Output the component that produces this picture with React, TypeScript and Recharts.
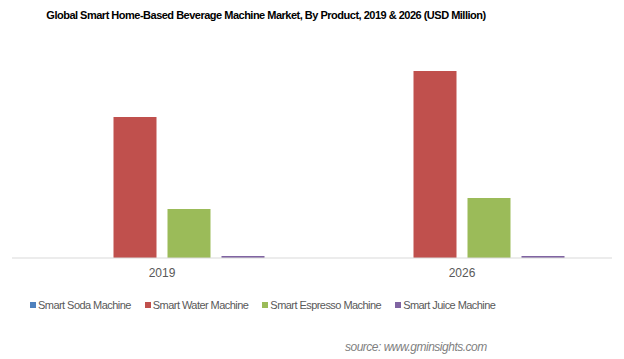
import { BarChart, Bar, XAxis, YAxis } from 'recharts'

const years = ['2019', '2026']
const sodaMachine = [0, 0]
const waterMachine = [1410, 1870]
const espressoMachine = [490, 600]
const juiceMachine = [20, 20]

const seriesNames = ['Smart Soda Machine', 'Smart Water Machine', 'Smart Espresso Machine', 'Smart Juice Machine']
const seriesKeys = ['soda', 'water', 'espresso', 'juice']
const seriesColors = ['#4f81bd', '#c0504d', '#9bbb59', '#8064a2']

const chartData = years.map((y, i) => ({
  year: y,
  soda: sodaMachine[i],
  water: waterMachine[i],
  espresso: espressoMachine[i],
  juice: juiceMachine[i],
}))

const font = '"Liberation Sans", Arial, sans-serif'

export default function App() {
  return (
    <div style={{ position: 'absolute', left: 0, top: 0, width: 624, height: 359, background: '#fff', fontFamily: font }}>
      <div
        style={{
          position: 'absolute',
          top: 9,
          left: 45,
          width: 442,
          textAlign: 'center',
          fontWeight: 'bold',
          fontSize: 11,
          letterSpacing: -0.5,
          color: '#000',
          whiteSpace: 'nowrap',
        }}
      >
        Global Smart Home-Based Beverage Machine Market, By Product, 2019 &amp; 2026 (USD Million)
      </div>

      <BarChart
        width={624}
        height={359}
        data={chartData}
        margin={{ top: 40, right: 12, left: 12, bottom: 71 }}
        barCategoryGap={47.5}
        barGap={11}
      >
        <XAxis
          dataKey="year"
          height={30}
          axisLine={{ stroke: '#d9d9d9' }}
          tickLine={false}
          tickMargin={4}
          tick={{ fontSize: 12, fill: '#595959', fontFamily: font }}
        />
        <YAxis hide domain={[0, 2180]} />
        {seriesKeys.map((k, i) => (
          <Bar key={k} dataKey={k} name={seriesNames[i]} fill={seriesColors[i]} isAnimationActive={false} />
        ))}
      </BarChart>

      <div
        style={{
          position: 'absolute',
          top: 299,
          left: 30,
          display: 'flex',
          gap: 14,
          fontSize: 11,
          letterSpacing: -0.55,
          color: '#595959',
          whiteSpace: 'nowrap',
        }}
      >
        {seriesNames.map((n, i) => (
          <div key={n} style={{ display: 'flex', alignItems: 'center' }}>
            <span style={{ display: 'inline-block', width: 6, height: 6, background: seriesColors[i], marginRight: 2 }} />
            <span>{n}</span>
          </div>
        ))}
      </div>

      <div
        style={{
          position: 'absolute',
          top: 340,
          left: 345,
          fontSize: 12,
          letterSpacing: -0.5,
          fontStyle: 'italic',
          color: '#7f7f7f',
          whiteSpace: 'nowrap',
        }}
      >
        source: www.gminsights.com
      </div>
    </div>
  )
}
